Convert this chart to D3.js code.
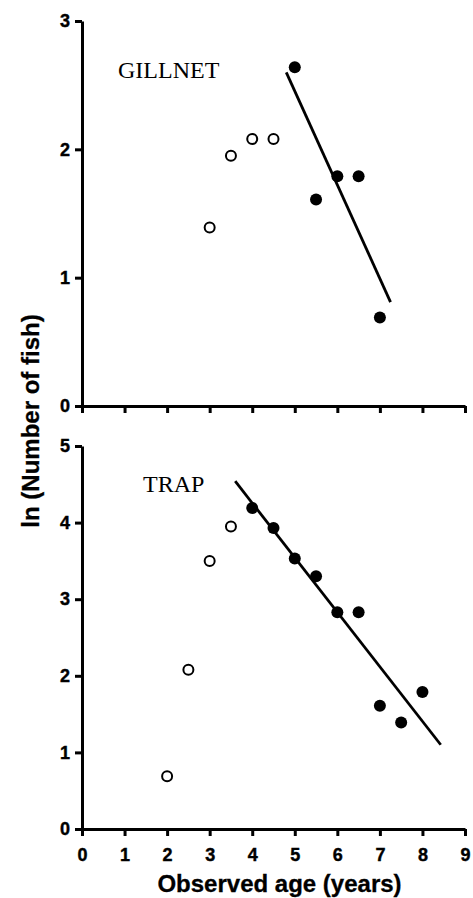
<!DOCTYPE html>
<html>
<head>
<meta charset="utf-8">
<script src="https://cdn.jsdelivr.net/npm/d3@7"></script>
<style>
  html, body { margin: 0; padding: 0; background: #fff; }
  svg { display: block; }
  .ax path, .ax line { stroke: #000; stroke-width: 3px; }
  .ax text { font-family: 'Liberation Sans', Arial, sans-serif; font-weight: bold; font-size: 18px; fill: #000; stroke: #000; stroke-width: 0.4px; }
</style>
</head>
<body>
<svg id="chart" width="473" height="898"></svg>
<script>
// ---- data ----
const xTicks = [0, 1, 2, 3, 4, 5, 6, 7, 8, 9];
const gillYTicks = [0, 1, 2, 3];
const trapYTicks = [0, 1, 2, 3, 4, 5];

// GILLNET
const gillOpenAge = [3, 3.5, 4, 4.5];
const gillOpenLn = [1.39, 1.95, 2.08, 2.08];
const gillFilledAge = [5, 5.5, 6, 6.5, 7];
const gillFilledLn = [2.64, 1.61, 1.79, 1.79, 0.69];
const gillLineAge = [4.8, 7.25];
const gillLineLn = [2.6, 0.81];

// TRAP
const trapOpenAge = [2, 2.5, 3, 3.5];
const trapOpenLn = [0.69, 2.08, 3.50, 3.95];
const trapFilledAge = [4, 4.5, 5, 5.5, 6, 6.5, 7, 7.5, 8];
const trapFilledLn = [4.19, 3.93, 3.53, 3.30, 2.83, 2.83, 1.61, 1.39, 1.79];
const trapLineAge = [3.6, 8.43];
const trapLineLn = [4.54, 1.10];

const labels = { gill: "GILLNET", trap: "TRAP", x: "Observed age (years)", y: "ln (Number of fish)" };

// ---- drawing ----
const svg = d3.select("#chart");
const sans = "'Liberation Sans', Arial, sans-serif";
const serif = "'Liberation Serif', 'Times New Roman', serif";

const x = d3.scaleLinear().domain([0, 9]).range([82, 465]);
const yTop = d3.scaleLinear().domain([0, 3]).range([406, 21]);
const yBot = d3.scaleLinear().domain([0, 5]).range([829, 446]);

function panel(y, yTicks, openA, openL, fillA, fillL, lineA, lineL, label, lx, ly, showXLabels) {
  const g = svg.append("g");

  // x axis
  const xa = d3.axisBottom(x).tickValues(xTicks).tickSizeInner(7).tickSizeOuter(0).tickPadding(12);
  if (!showXLabels) xa.tickFormat(() => "");
  g.append("g").attr("class", "ax").attr("transform", `translate(0,${y(0)})`).call(xa);

  // y axis
  const ya = d3.axisLeft(y).tickValues(yTicks).tickSizeInner(7).tickSizeOuter(0).tickPadding(5).tickFormat(d3.format("d"));
  g.append("g").attr("class", "ax").attr("transform", `translate(${x(0)},0)`).call(ya);

  // regression line
  g.append("line")
    .attr("x1", x(lineA[0])).attr("y1", y(lineL[0]))
    .attr("x2", x(lineA[1])).attr("y2", y(lineL[1]))
    .attr("stroke", "#000").attr("stroke-width", 2.8);

  // open circles
  g.selectAll("circle.open").data(openA.map((a, i) => [a, openL[i]])).join("circle")
    .attr("class", "open")
    .attr("cx", d => x(d[0])).attr("cy", d => y(d[1])).attr("r", 5)
    .attr("fill", "#fff").attr("stroke", "#000").attr("stroke-width", 2);

  // filled circles
  g.selectAll("circle.filled").data(fillA.map((a, i) => [a, fillL[i]])).join("circle")
    .attr("class", "filled")
    .attr("cx", d => x(d[0])).attr("cy", d => y(d[1])).attr("r", 6)
    .attr("fill", "#000");

  // panel label
  g.append("text").attr("x", lx).attr("y", ly)
    .style("font-family", serif).style("font-size", "24px").attr("fill", "#000")
    .text(label);
}

panel(yTop, gillYTicks, gillOpenAge, gillOpenLn, gillFilledAge, gillFilledLn, gillLineAge, gillLineLn, labels.gill, 118, 78, false);
panel(yBot, trapYTicks, trapOpenAge, trapOpenLn, trapFilledAge, trapFilledLn, trapLineAge, trapLineLn, labels.trap, 143, 492, true);

// axis titles
svg.append("text")
  .attr("x", (x(0) + x(9)) / 2 + 6).attr("y", 892)
  .attr("text-anchor", "middle")
  .style("font-family", sans).style("font-weight", "bold").style("font-size", "24px")
  .style("stroke", "#000").style("stroke-width", "0.3px")
  .text(labels.x);

svg.append("text")
  .attr("transform", "translate(39,421) rotate(-90)")
  .attr("text-anchor", "middle")
  .style("font-family", sans).style("font-weight", "bold").style("font-size", "24px")
  .style("stroke", "#000").style("stroke-width", "0.3px")
  .text(labels.y);
</script>
</body>
</html>
